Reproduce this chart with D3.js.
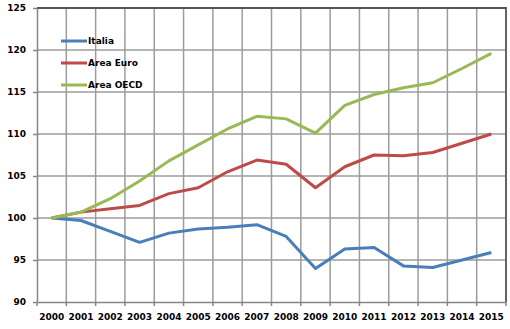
<!DOCTYPE html>
<html>
<head>
<meta charset="utf-8">
<script src="https://cdn.jsdelivr.net/npm/d3@7"></script>
<style>
  body { margin: 0; background: #fff; }
  svg { display: block; }
  text { font-family: "DejaVu Sans", Verdana, sans-serif; font-weight: bold; fill: #000; }
</style>
</head>
<body>
<div id="chart"></div>
<script>
const years = ['2000', '2001', '2002', '2003', '2004', '2005', '2006', '2007',
  '2008', '2009', '2010', '2011', '2012', '2013', '2014', '2015'];
const italia = [100, 99.7, 98.4, 97.1, 98.2, 98.7, 98.9, 99.2, 97.8, 94.0, 96.3, 96.5, 94.3, 94.1, 95.0, 95.9];
const areaEuro = [100, 100.7, 101.1, 101.5, 102.9, 103.6, 105.5, 106.9, 106.4, 103.6, 106.1, 107.5, 107.4, 107.8, 108.9, 110.0];
const areaOecd = [100, 100.7, 102.3, 104.4, 106.8, 108.7, 110.6, 112.1, 111.8, 110.1, 113.4, 114.7, 115.5, 116.1, 117.8, 119.6];
const yTicks = [90, 95, 100, 105, 110, 115, 120, 125];

const series = [
  { name: 'Italia', values: italia, color: '#4a7ebb' },
  { name: 'Area Euro', values: areaEuro, color: '#be4b48' },
  { name: 'Area OECD', values: areaOecd, color: '#98b954' }
];

const W = 510, H = 329;
const margin = { top: 8, right: 4, bottom: 27, left: 37 };

const svg = d3.select('#chart').append('svg')
  .attr('width', W)
  .attr('height', H);

const x = d3.scaleBand()
  .domain(years)
  .range([margin.left, W - margin.right])
  .padding(0);

const y = d3.scaleLinear()
  .domain([90, 125])
  .range([H - margin.bottom, margin.top]);

const plotL = margin.left, plotR = W - margin.right;
const plotT = margin.top, plotB = H - margin.bottom;

const gridColor = '#9c9c9c';
const axisColor = '#868686';

// horizontal gridlines at the value ticks
svg.append('g')
  .selectAll('line')
  .data(yTicks.slice(1, -1))
  .enter().append('line')
  .attr('x1', plotL).attr('x2', plotR)
  .attr('y1', d => y(d)).attr('y2', d => y(d))
  .attr('stroke', gridColor)
  .attr('stroke-width', 1.5);

// vertical gridlines on the category boundaries
svg.append('g')
  .selectAll('line')
  .data(years.slice(1))
  .enter().append('line')
  .attr('x1', d => x(d)).attr('x2', d => x(d))
  .attr('y1', plotT).attr('y2', plotB)
  .attr('stroke', gridColor)
  .attr('stroke-width', 1.5);

// top and right frame
svg.append('path')
  .attr('d', `M${plotL},${plotT}H${plotR}V${plotB}`)
  .attr('fill', 'none')
  .attr('stroke', '#555555')
  .attr('stroke-width', 1.8);

// y axis
const yAxis = svg.append('g')
  .attr('transform', `translate(${plotL},0)`)
  .call(d3.axisLeft(y).tickValues(yTicks).tickSize(4).tickSizeOuter(0).tickPadding(7));
yAxis.select('.domain').attr('stroke', axisColor).attr('stroke-width', 1.5);
yAxis.selectAll('.tick line').attr('stroke', axisColor).attr('stroke-width', 1.5);
yAxis.selectAll('text').style('font-size', '9px');

// x axis: labels in the band centres, ticks on the boundaries
const xAxis = svg.append('g')
  .attr('transform', `translate(0,${plotB})`)
  .call(d3.axisBottom(x).tickSize(0).tickPadding(12));
xAxis.select('.domain').attr('stroke', axisColor).attr('stroke-width', 1.5);
xAxis.selectAll('text').style('font-size', '9px');

xAxis.selectAll('.bound')
  .data(years.concat(['end']))
  .enter().append('line')
  .attr('class', 'bound')
  .attr('x1', d => d === 'end' ? plotR : x(d))
  .attr('x2', d => d === 'end' ? plotR : x(d))
  .attr('y1', 0).attr('y2', 4)
  .attr('stroke', axisColor)
  .attr('stroke-width', 1.5);

// series lines
const line = d3.line()
  .x((d, i) => x(years[i]) + x.bandwidth() / 2)
  .y(d => y(d));

svg.append('g')
  .selectAll('path')
  .data(series)
  .enter().append('path')
  .attr('d', d => line(d.values))
  .attr('fill', 'none')
  .attr('stroke', d => d.color)
  .attr('stroke-width', 3)
  .attr('stroke-linejoin', 'round');

// legend
const legend = svg.append('g')
  .selectAll('g')
  .data(series)
  .enter().append('g')
  .attr('transform', (d, i) => `translate(61,${41 + i * 22})`);

legend.append('line')
  .attr('x1', 0).attr('x2', 26)
  .attr('stroke', d => d.color)
  .attr('stroke-width', 3);

legend.append('text')
  .attr('x', 27)
  .attr('dy', '0.35em')
  .style('font-size', '9px')
  .text(d => d.name);
</script>
</body>
</html>
